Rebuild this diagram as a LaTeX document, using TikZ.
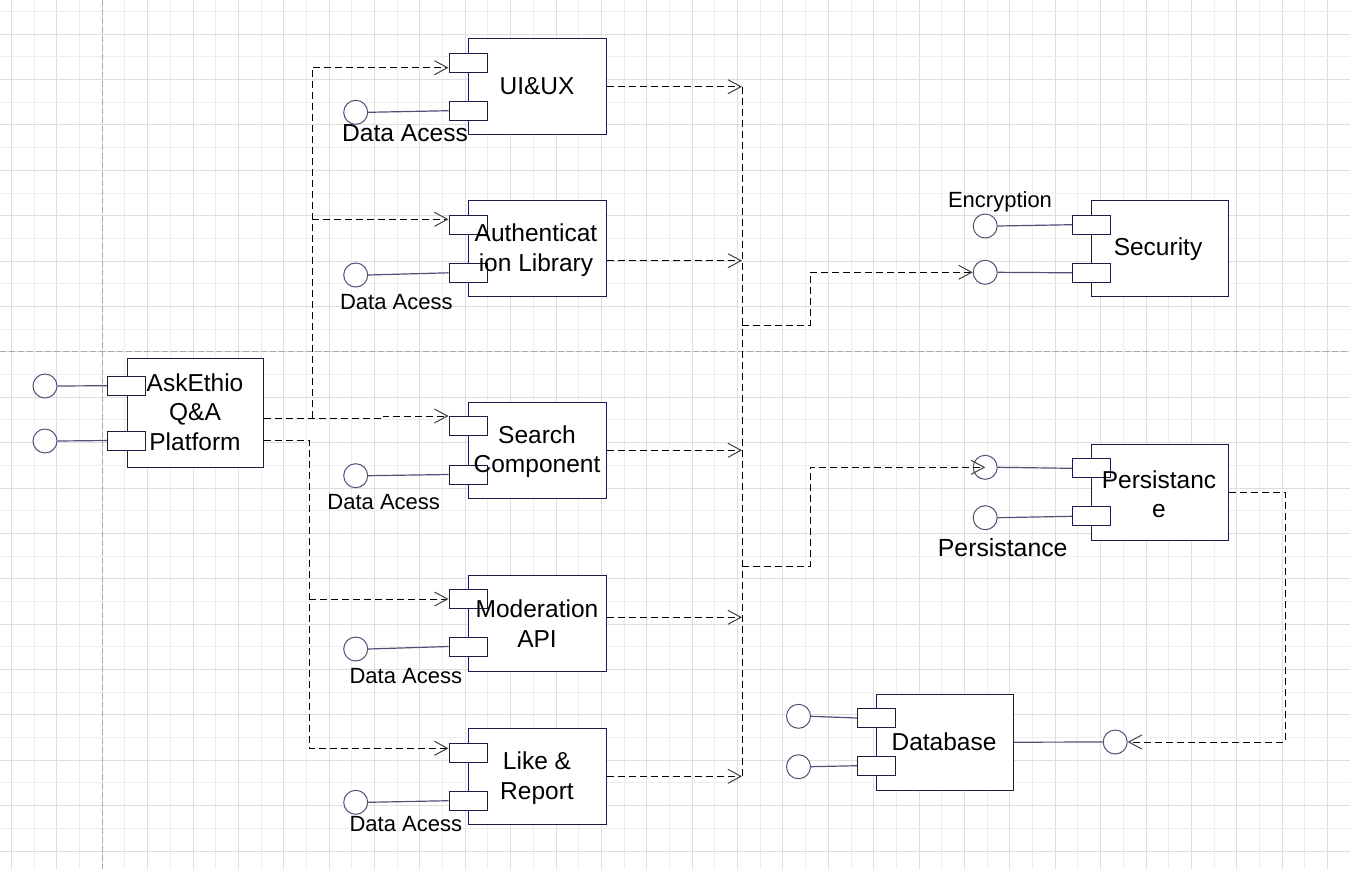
\documentclass[tikz,border=0pt]{standalone}
\usepackage{fontspec}
\setmainfont{Liberation Sans}
\usetikzlibrary{arrows.meta}
\definecolor{navy}{RGB}{28,28,72}
\definecolor{wirec}{RGB}{80,80,120}
\definecolor{gridA}{RGB}{238,238,238}
\definecolor{gridB}{RGB}{222,222,222}
\definecolor{pagebrk}{RGB}{170,170,170}
\begin{document}
\begin{tikzpicture}[x=0.5pt,y=-0.5pt,
  comp/.style={draw=navy,line width=0.5pt,fill=white,rectangle,minimum width=69pt,minimum height=48pt,inner sep=0pt},
  port/.style={draw=navy,line width=0.5pt,fill=white,rectangle,minimum width=19pt,minimum height=9.5pt,inner sep=0pt},
  iface/.style={draw=wirec,line width=0.5pt,fill=white,circle,minimum size=12pt,inner sep=0pt},
  ctext/.style={font=\fontsize{12.25pt}{14.75pt}\selectfont,align=center,inner sep=0pt,text=black},
  ltext/.style={font=\fontsize{11pt}{13pt}\selectfont,inner sep=0pt,anchor=base,text=black},
  wire/.style={draw=wirec,line width=0.6pt},
  dep/.style={draw=black,line width=0.5pt,dash pattern=on 3.5pt off 2pt},
  arr/.style={-{Straight Barb[length=6.5pt,width=7pt,line width=0.5pt,color=black!75]}}
]
\useasboundingbox (0,0) rectangle (1350,869);
\fill[white] (0,0) rectangle (1350,869);
% grid
\foreach \k in {0,...,58}{
  \pgfmathsetmacro\gx{11.5+22.69*\k}
  \ifodd\k\def\gc{gridA}\else\def\gc{gridB}\fi
  \draw[\gc,line width=0.5pt] (\gx,0) -- (\gx,869);
}
\foreach \k in {0,...,38}{
  \pgfmathsetmacro\gy{11.5+22.69*\k}
  \ifodd\k\def\gc{gridB}\else\def\gc{gridA}\fi
  \draw[\gc,line width=0.5pt] (0,\gy) -- (1350,\gy);
}
\draw[pagebrk,line width=0.5pt,dash pattern=on 3pt off 1.5pt] (102.3,0) -- (102.3,869);
\draw[pagebrk,line width=0.5pt,dash pattern=on 3pt off 1.5pt] (0,351) -- (1350,351);

% AskEthio
\node[comp,minimum width=68pt,minimum height=54.5pt] (ask) at (195,412.5) {};
\node[port] (ask-p1) at (126.3,385.7) {};
\node[port] (ask-p2) at (126.3,440.5) {};
\node[iface] (ask-c1) at (45,386) {};
\node[iface] (ask-c2) at (45,441) {};
\draw[wire] (ask-c1.east) -- (ask-p1.west);
\draw[wire] (ask-c2.east) -- (ask-p2.west);

% middle column
\node[comp] (ui) at (537,86) {};
\node[port] (ui-p1) at (468,62.5) {};
\node[port] (ui-p2) at (468,110.7) {};
\node[iface] (ui-c) at (355.7,112.3) {};
\draw[wire] (ui-c.east) -- (ui-p2.west);

\node[comp] (auth) at (537,248.3) {};
\node[port] (auth-p1) at (468,224.7) {};
\node[port] (auth-p2) at (468,272.8) {};
\node[iface] (auth-c) at (355.7,275) {};
\draw[wire] (auth-c.east) -- (auth-p2.west);

\node[comp] (search) at (537,450.4) {};
\node[port] (search-p1) at (468,426) {};
\node[port] (search-p2) at (468,474.5) {};
\node[iface] (search-c) at (355.7,475.7) {};
\draw[wire] (search-c.east) -- (search-p2.west);

\node[comp] (mod) at (537,623.3) {};
\node[port] (mod-p1) at (468,598.7) {};
\node[port] (mod-p2) at (468,646.5) {};
\node[iface] (mod-c) at (355.7,649) {};
\draw[wire] (mod-c.east) -- (mod-p2.west);

\node[comp] (like) at (537,776.3) {};
\node[port] (like-p1) at (468,752.8) {};
\node[port] (like-p2) at (468,800.7) {};
\node[iface] (like-c) at (355.7,802.3) {};
\draw[wire] (like-c.east) -- (like-p2.west);

% Security
\node[comp,minimum width=68.3pt,minimum height=47.8pt] (sec) at (1159.7,248.5) {};
\node[port] (sec-p1) at (1091.4,224.7) {};
\node[port] (sec-p2) at (1091.4,272.8) {};
\node[iface] (sec-c1) at (985.2,226) {};
\node[iface] (sec-c2) at (985.2,272.3) {};
\draw[wire] (sec-c1.east) -- (sec-p1.west);
\draw[wire] (sec-c2.east) -- (sec-p2.west);

% Persistance
\node[comp,minimum width=68.6pt,minimum height=47.7pt] (pers) at (1160,492.3) {};
\node[port] (pers-p1) at (1091.4,468.3) {};
\node[port] (pers-p2) at (1091.4,516.3) {};
\node[iface] (pers-c1) at (985.2,467.3) {};
\node[iface] (pers-c2) at (985.2,517.7) {};
\draw[wire] (pers-c1.east) -- (pers-p1.west);
\draw[wire] (pers-c2.east) -- (pers-p2.west);

% Database
\node[comp,minimum width=68.5pt,minimum height=47.8pt] (db) at (945,742.2) {};
\node[port] (db-p1) at (876.4,718) {};
\node[port] (db-p2) at (876.4,765.7) {};
\node[iface] (db-c1) at (798.5,716.3) {};
\node[iface] (db-c2) at (798.5,766.7) {};
\node[iface] (db-c3) at (1115.2,742) {};
\draw[wire] (db-c1.east) -- (db-p1.west);
\draw[wire] (db-c2.east) -- (db-p2.west);
\draw[wire] (db.east) -- (db-c3.west);

% dependencies from AskEthio
\draw[dep,arr] (ask.east |- 0,418.3) -- (383.3,418.3) -- (383.3,416) -- (search-p1.west |- 0,416);
\draw[dep,arr] (312,418.3) -- (312,67.7) -- (ui-p1.west |- 0,67.7);
\draw[dep,arr] (312,219.3) -- (auth-p1.west |- 0,219.3);
\draw[dep,arr] (ask.east |- 0,440.7) -- (309,440.7) -- (309,748.3) -- (like-p1.west |- 0,748.3);
\draw[dep,arr] (309,599) -- (mod-p1.west |- 0,599);

% outputs to the trunk
\coordinate (trunkT) at (742,86.7);
\coordinate (trunkB) at (742,776.3);
\draw[dep] (trunkT) -- (trunkB);
\draw[dep,arr] (ui.east |- 0,86.7) -- (trunkT);
\draw[dep,arr] (auth.east |- 0,260.7) -- (742,260.7);
\draw[dep,arr] (search.east |- 0,450.3) -- (742,450.3);
\draw[dep,arr] (mod.east |- 0,617.3) -- (742,617.3);
\draw[dep,arr] (like.east |- 0,776.3) -- (trunkB);
\draw[dep,arr] (742,325) -- (810,325) -- (810,272.3) -- (sec-c2.west);
\draw[dep,arr] (742,566.3) -- (810,566.3) -- (810,467.3) -- (pers-c1.center);
\draw[dep,arr] (pers.east |- 0,492.3) -- (1285.3,492.3) -- (1285.3,742) -- (db-c3.east);

% texts
\node[ctext] (ask-t) at (195,412) {AskEthio\\Q\&A\\Platform};
\node[ctext] (ui-t) at (537,86) {UI\&UX};
\node[ctext] (auth-t) at (536,250) {Authenticat\\ion Library};
\node[ctext] (search-t) at (537,451.5) {Search\\Component};
\node[ctext] (mod-t) at (537,623.5) {Moderation\\API};
\node[ctext] (like-t) at (537,778) {Like \&\\Report};
\node[ctext] (sec-t) at (1158,249) {Security};
\node[ctext] (pers-t) at (1159,494) {Persistanc\\e};
\node[ctext] (db-t) at (944,742) {Database};

\node[ltext,font=\fontsize{12.3pt}{14pt}\selectfont] (ui-l) at (405,141) {Data Acess};
\node[ltext] (auth-l) at (396.3,309) {Data Acess};
\node[ltext] (search-l) at (383.7,509) {Data Acess};
\node[ltext] (mod-l) at (405.8,683.3) {Data Acess};
\node[ltext] (like-l) at (405.8,831.7) {Data Acess};
\node[ltext] (enc-l) at (1000,207.7) {Encryption};
\node[ltext,font=\fontsize{12.4pt}{14pt}\selectfont] (pers-l) at (1002.7,556.7) {Persistance};
\end{tikzpicture}
\end{document}
